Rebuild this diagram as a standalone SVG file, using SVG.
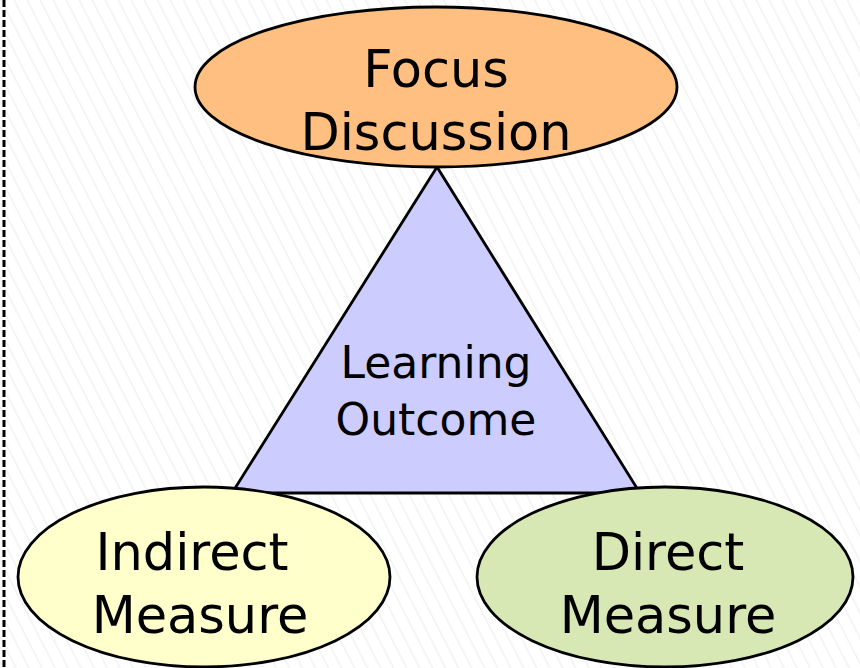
<svg xmlns="http://www.w3.org/2000/svg" width="860" height="668" viewBox="0 0 860 668">
  <style>
    .shape { stroke: #000; stroke-width: 2.8; }
    .label { font-family: "DejaVu Sans", Verdana, sans-serif; fill: #000; text-anchor: middle; }
    .big { font-size: 51px; }
    .mid { font-size: 44px; }
  </style>
  <defs>
    <pattern id="hatch" width="11.6" height="12" patternUnits="userSpaceOnUse" patternTransform="rotate(-27)">
      <rect width="11.6" height="12" fill="#fff"/>
      <line x1="1" y1="0" x2="1" y2="12" stroke="#efefef" stroke-width="1.2"/>
    </pattern>
  </defs>

  <!-- hatched page background -->
  <rect width="860" height="668" fill="url(#hatch)"/>
  <!-- dashed left margin rule -->
  <line x1="4" y1="0" x2="4" y2="668" stroke="#000" stroke-width="3" stroke-dasharray="7 3"/>

  <g id="connectors"></g>

  <g id="learning-outcome">
    <polygon class="shape" points="437,167 232,493 640,493" fill="#ccccff"/>
    <text class="label mid" x="436" y="378">Learning</text>
    <text class="label mid" x="436" y="435">Outcome</text>
  </g>

  <g id="focus-discussion">
    <ellipse class="shape" cx="436" cy="87" rx="241" ry="80" fill="#ffbf80"/>
    <text class="label big" x="436" y="87">Focus</text>
    <text class="label big" x="436" y="150">Discussion</text>
  </g>

  <g id="indirect-measure">
    <ellipse class="shape" cx="204" cy="577" rx="186" ry="90" fill="#ffffcc"/>
    <text class="label big" x="192" y="570">Indirect</text>
    <text class="label big" x="200" y="633">Measure</text>
  </g>

  <g id="direct-measure">
    <ellipse class="shape" cx="665" cy="577" rx="188" ry="90" fill="#d7e8b4"/>
    <text class="label big" x="668" y="570">Direct</text>
    <text class="label big" x="668" y="633">Measure</text>
  </g>
</svg>
